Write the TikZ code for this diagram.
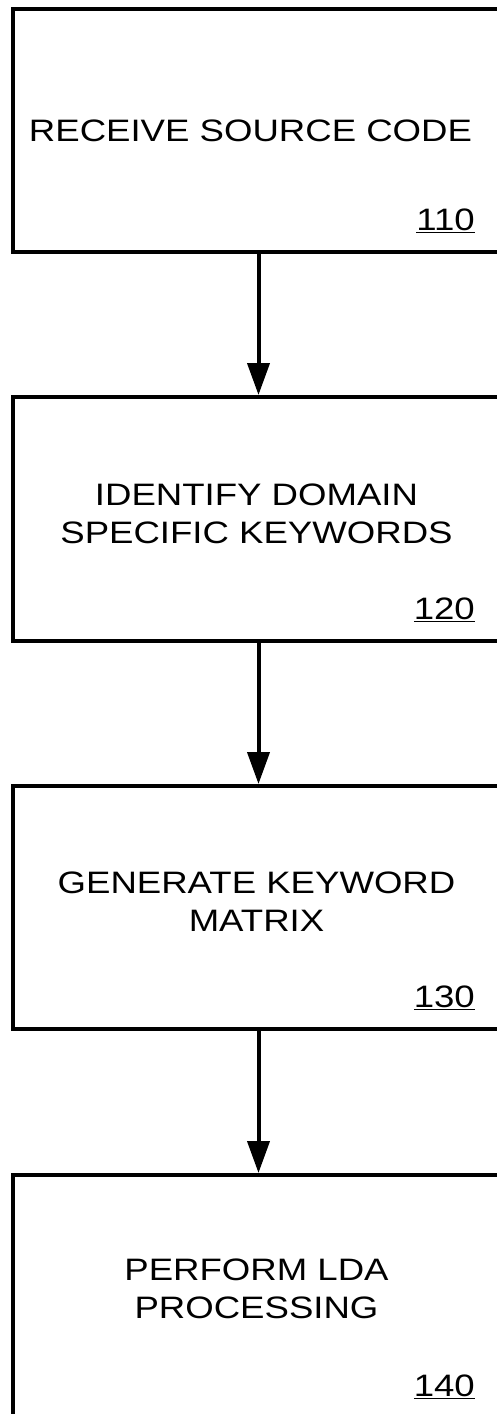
\documentclass[tikz,border=0pt]{standalone}
\usepackage{fontspec}
\setmainfont[FakeStretch=1.18]{Liberation Sans}
\usetikzlibrary{calc,arrows.meta}
\tikzset{
	stepbox/.style={draw, line width=4pt, minimum width=491pt, inner sep=0pt},
	steptext/.style={align=center, inner sep=0pt, font=\fontsize{31pt}{38pt}\selectfont},
	tag/.style={anchor=base east, inner sep=0pt, font=\fontsize{31pt}{38pt}\selectfont},
	flow/.style={line width=4pt, -{Triangle[width=22pt,length=32pt]}}
}

\begin{document}
\begin{tikzpicture}[x=1pt, y=-1pt]
			%%%%% START %%%%%
			\useasboundingbox (0, 0) rectangle (497, 1414);
			\clip (0, 0) rectangle (497, 1414);
			
			\node[stepbox, minimum height=243pt] (box1) at (258.5, 130.5) {};
			\node[stepbox, minimum height=244pt] (box2) at (258.5, 519) {};
			\node[stepbox, minimum height=243pt] (box3) at (258.5, 907.5) {};
			\node[stepbox, minimum height=243pt] (box4) at (258.5, 1296.5) {};
			
			\node[steptext] (txt1) at ($(box1.center)+(-8, 0)$) {RECEIVE SOURCE CODE};
			\node[steptext] (txt2) at ($(box2.center)+(-2, -5)$) {IDENTIFY DOMAIN\\SPECIFIC KEYWORDS};
			\node[steptext] (txt3) at ($(box3.center)+(-2, -6)$) {GENERATE KEYWORD\\MATRIX};
			\node[steptext] (txt4) at ($(box4.center)+(-2, -8)$) {PERFORM LDA\\PROCESSING};
			
			\node[tag] (lab1) at ($(box1.south)+(216.5, -24)$) {\underline{110}};
			\node[tag] (lab2) at ($(box2.south)+(216.5, -24)$) {\underline{120}};
			\node[tag] (lab3) at ($(box3.south)+(216.5, -24)$) {\underline{130}};
			\node[tag] (lab4) at ($(box4.south)+(216.5, -24)$) {\underline{140}};
			
			\draw[flow] (box1.south) -- (box2.north);
			\draw[flow] (box2.south) -- (box3.north);
			\draw[flow] (box3.south) -- (box4.north);
			%%%%% END %%%%%
\end{tikzpicture}
\end{document}
